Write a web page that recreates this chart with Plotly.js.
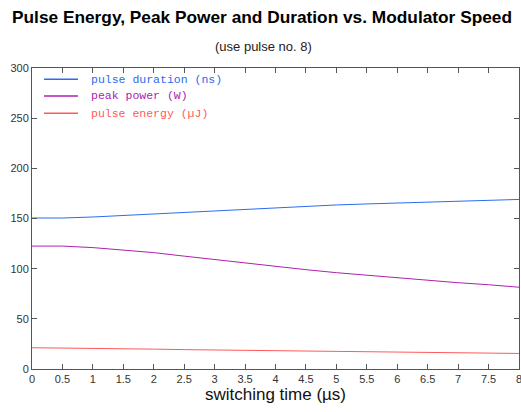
<!DOCTYPE html>
<html><head><meta charset="utf-8">
<script src="https://cdn.plot.ly/plotly-3.0.1.min.js"></script>
<style>html,body{margin:0;padding:0;background:#fff}#c{width:521px;height:412px}</style>
</head><body><div id="c"></div>
<script>
const switchingTime = [0,0.5,1,1.5,2,2.5,3,3.5,4,4.5,5,5.5,6,6.5,7,7.5,8];
const pulseDuration = [150.5,150.5,151.5,153,155,156.5,158,159.5,160.5,162,163.5,164.5,165.5,166.5,167.3,168,169];
const peakPower = [122.5,122.5,121,118.5,116,112.5,109,106,102.5,99,96,93.5,90.5,88,86,84,81.5];
const pulseEnergy = [21.2,21,20.8,20.2,19.8,19.3,19,18.5,18.2,17.8,17.4,17.2,16.6,16.4,16,15.7,15.5];
const seriesNames = ['pulse duration (ns)','peak power (W)','pulse energy (µJ)'];
const colors = ['#2a6cf0','#b020b0','#ff5a5a'];
const ys = [pulseDuration, peakPower, pulseEnergy];
const traces = ys.map((y,i)=>({
  x: switchingTime, y: y, type:'scatter', mode:'lines', line:{color:colors[i], width:1},
  name: seriesNames[i]
}));
const axisBase = {showline:true, mirror:'ticks', linecolor:'#555', linewidth:1, ticks:'inside', ticklen:5, tickcolor:'#555',
  showgrid:false, zeroline:false, ticklabeloverflow:'allow', tickfont:{family:'Arial, Liberation Sans', size:11, color:'#333'}};
// legend drawn in paper coordinates
const legendRowsY = [0.963, 0.907, 0.850];
const shapes = seriesNames.map((n,i)=>({type:'line', xref:'paper', yref:'paper', x0:0.0246, x1:0.0945,
  y0:legendRowsY[i], y1:legendRowsY[i], line:{color:colors[i], width:1.5}}));
const legendAnn = seriesNames.map((n,i)=>({text:n, xref:'paper', yref:'paper', x:0.117, y:legendRowsY[i],
  xanchor:'left', yanchor:'middle', showarrow:false,
  font:{family:'Liberation Mono, Courier New, monospace', size:11.5, color:colors[i]}}));
const layout = {
  width:521, height:412, margin:{l:32,r:2,t:68,b:43},
  paper_bgcolor:'#fff', plot_bgcolor:'#fff',
  showlegend:false,
  xaxis:Object.assign({}, axisBase, {range:[0,8], dtick:0.5, tick0:0,
    title:{text:'switching time (µs)', font:{family:'Arial, Liberation Sans', size:17, color:'#111'}, standoff:3}}),
  yaxis:Object.assign({}, axisBase, {range:[0,300], dtick:50, tick0:0}),
  shapes: shapes,
  annotations:[
    {text:'<b>Pulse Energy, Peak Power and Duration vs. Modulator Speed</b>', xref:'paper', yref:'paper', x:0.4733, y:1, yshift:51, xanchor:'center', yanchor:'middle', showarrow:false,
     font:{family:'Arial, Liberation Sans', size:17.3, color:'#000'}},
    {text:'(use pulse no. 8)', xref:'paper', yref:'paper', x:0.476, y:1, yshift:22, xanchor:'center', yanchor:'middle', showarrow:false,
     font:{family:'Arial, Liberation Sans', size:13, color:'#222'}}
  ].concat(legendAnn)
};
Plotly.newPlot('c', traces, layout, {displayModeBar:false, staticPlot:true});
</script></body></html>
